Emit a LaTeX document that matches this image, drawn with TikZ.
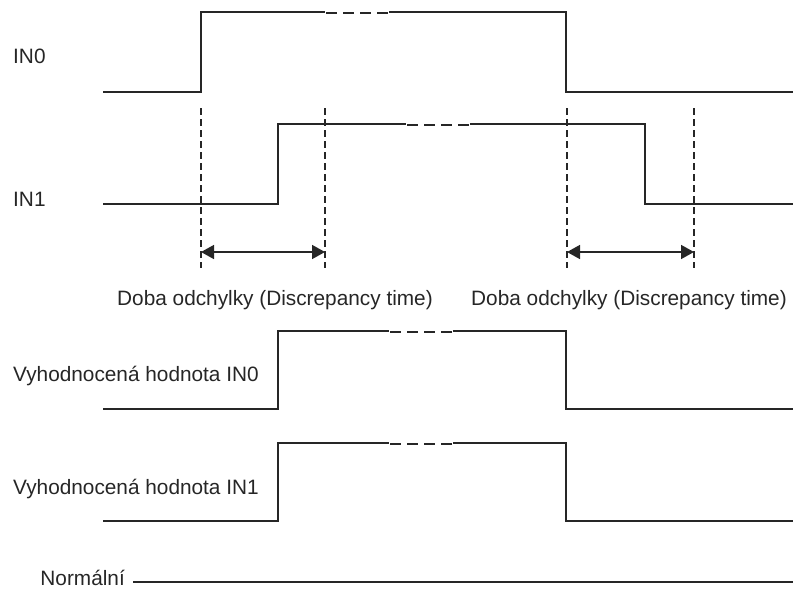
\documentclass[tikz,border=0pt]{standalone}
\usepackage{fontspec}
\setmainfont{Liberation Sans}
\usetikzlibrary{arrows.meta}
\begin{document}
\begin{tikzpicture}[x=1pt,y=-1pt,
  wave/.style={line width=1.5pt, line join=miter, draw=black!85},
  gapdash/.style={line width=2pt, draw=black!85, dash pattern=on 11pt off 6pt},
  guide/.style={line width=1.3pt, draw=black!85, dash pattern=on 7pt off 4pt},
  span/.style={line width=1.5pt, draw=black!85, {Triangle[length=13pt,width=14pt]}-{Triangle[length=13pt,width=14pt]}},
  lbl/.style={anchor=base west, inner sep=0pt, font=\fontsize{20.8}{25}\selectfont, text=black!85}]
\useasboundingbox (0,0) rectangle (794,605);

% labels
\node[lbl] (lin0) at (13,63) {IN0};
\node[lbl] (lin1) at (13,206) {IN1};
\node[lbl] (lev0) at (13,381) {Vyhodnocená hodnota IN0};
\node[lbl] (lev1) at (13,494) {Vyhodnocená hodnota IN1};
\node[lbl, anchor=base] (ld1) at (275,305) {Doba odchylky (Discrepancy time)};
\node[lbl, anchor=base] (ld2) at (629,305) {Doba odchylky (Discrepancy time)};
\node[lbl, anchor=base east] (lnorm) at (125,585) {Normální};

% IN0
\draw[wave] (103,92) -- (201,92) -- (201,12) -- (325,12);
\draw[gapdash] (326,13) -- (389,13);
\draw[wave] (389,12) -- (566,12) -- (566,92) -- (793,92);

% IN1
\draw[wave] (103,204) -- (278,204) -- (278,124) -- (406,124);
\draw[gapdash] (407,125) -- (470,125);
\draw[wave] (470,124) -- (645,124) -- (645,204) -- (793,204);

% evaluated IN0
\draw[wave] (103,409) -- (278,409) -- (278,331) -- (389,331);
\draw[gapdash] (390,332) -- (453,332);
\draw[wave] (453,331) -- (566,331) -- (566,409) -- (793,409);

% evaluated IN1
\draw[wave] (103,521) -- (278,521) -- (278,443) -- (389,443);
\draw[gapdash] (390,444) -- (453,444);
\draw[wave] (453,443) -- (566,443) -- (566,521) -- (793,521);

% guides
\foreach \gx/\gn in {201/a,325/b,567/c,694/d} {
  \draw[guide] (\gx,108) -- (\gx,268);
  \coordinate (g\gn) at (\gx,252);
}
\draw[span] (ga) -- (gb);
\draw[span] (gc) -- (gd);

% normal line
\coordinate (nend) at (793,582);
\draw[wave] ([xshift=8pt]lnorm.base east) ++(0,-3) -- (nend);
\end{tikzpicture}
\end{document}
